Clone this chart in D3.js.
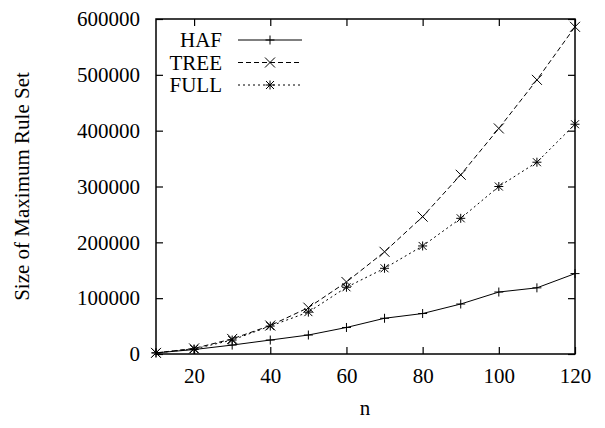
<!DOCTYPE html>
<html>
<head>
<meta charset="utf-8">
<script src="https://cdn.jsdelivr.net/npm/d3@7"></script>
<style>
  body { margin: 0; background: #fff; }
</style>
</head>
<body>
<div id="chart-area"></div>
<script>
// data
var nValues = [10, 20, 30, 40, 50, 60, 70, 80, 90, 100, 110, 120];
var hafValues  = [2000, 8000, 16000, 25000, 34000, 47500, 64000, 72500, 89500, 111000, 118500, 144000];
var treeValues = [2000, 10000, 27000, 51000, 83000, 129000, 183000, 246000, 321000, 404000, 491000, 586000];
var fullValues = [2000, 9000, 25000, 50000, 75000, 119500, 153500, 193500, 243000, 300000, 343500, 411500];
var xTicks = [20, 40, 60, 80, 100, 120];
var yTicks = [0, 100000, 200000, 300000, 400000, 500000, 600000];
var seriesNames = ["HAF", "TREE", "FULL"];

var FONT = "Liberation Serif, Times New Roman, serif";

var margin = { left: 156, right: 30, top: 19, bottom: 74 };
var width = 605 - margin.left - margin.right;
var height = 428 - margin.top - margin.bottom;

var svg = d3.select("#chart-area")
    .append("svg")
    .attr("width", 605)
    .attr("height", 428)
    .attr("font-family", FONT);
var g = svg.append("g")
    .attr("transform", "translate(" + margin.left + "," + margin.top + ")");

var x = d3.scaleLinear().domain([10, 120]).range([0, width]);
var y = d3.scaleLinear().domain([0, 600000]).range([height, 0]);

var series = [
  { name: seriesNames[0], values: hafValues, dash: null, marker: "plus" },
  { name: seriesNames[1], values: treeValues, dash: "5,3", marker: "cross" },
  { name: seriesNames[2], values: fullValues, dash: "2,3", marker: "star" }
];

// gnuplot style ticks: inward, mirrored on top / right
var tickLen = 7;
var fmt = d3.format("d");
var xAxisB = d3.axisBottom(x).tickValues(xTicks).tickSizeInner(-tickLen).tickSizeOuter(0).tickPadding(14).tickFormat(fmt);
var xAxisT = d3.axisTop(x).tickValues(xTicks).tickSizeInner(-tickLen).tickSizeOuter(0).tickFormat("");
var yAxisL = d3.axisLeft(y).tickValues(yTicks).tickSizeInner(-tickLen).tickSizeOuter(0).tickPadding(16).tickFormat(fmt);
var yAxisR = d3.axisRight(y).tickValues(yTicks).tickSizeInner(-tickLen).tickSizeOuter(0).tickFormat("");

function styleAxis(sel) {
  sel.attr("font-family", FONT);
  sel.select(".domain").remove();
  sel.selectAll("line").attr("stroke", "#000").attr("stroke-width", 1.2);
  sel.selectAll("text").attr("font-size", "21px").attr("fill", "#000");
}

g.append("g").attr("transform", "translate(0," + height + ")").call(xAxisB).call(styleAxis);
g.append("g").call(xAxisT).call(styleAxis);
g.append("g").call(yAxisL).call(styleAxis);
g.append("g").attr("transform", "translate(" + width + ",0)").call(yAxisR).call(styleAxis);

// frame
g.append("rect")
    .attr("width", width).attr("height", height)
    .attr("fill", "none").attr("stroke", "#000").attr("stroke-width", 1.5);

// point markers
function drawMarker(sel, type, cx, cy) {
  var p = sel.append("g").attr("transform", "translate(" + cx + "," + cy + ")")
      .attr("stroke", "#000").attr("stroke-width", 1).attr("fill", "none");
  if (type === "plus" || type === "star") {
    var s = 4.5;
    p.append("line").attr("x1", -s).attr("x2", s).attr("y1", 0).attr("y2", 0);
    p.append("line").attr("x1", 0).attr("x2", 0).attr("y1", -s).attr("y2", s);
  }
  if (type === "cross" || type === "star") {
    var c = type === "cross" ? 5 : 4;
    p.append("line").attr("x1", -c).attr("x2", c).attr("y1", -c).attr("y2", c);
    p.append("line").attr("x1", -c).attr("x2", c).attr("y1", c).attr("y2", -c);
  }
}

var line = d3.line()
    .x(function(d) { return x(d.n); })
    .y(function(d) { return y(d.v); });

series.forEach(function(s) {
  var pts = nValues.map(function(n, i) { return { n: n, v: s.values[i] }; });
  g.append("path")
      .datum(pts)
      .attr("d", line)
      .attr("fill", "none")
      .attr("stroke", "#000")
      .attr("stroke-width", 1)
      .attr("stroke-dasharray", s.dash);
  pts.forEach(function(d) { drawMarker(g, s.marker, x(d.n), y(d.v)); });
});

// legend
var legend = svg.append("g");
series.forEach(function(s, i) {
  var ly = 40 + i * 22.5;
  legend.append("text")
      .attr("x", 222).attr("y", ly)
      .attr("dy", "0.35em")
      .attr("text-anchor", "end")
      .attr("font-size", "21px")
      .text(s.name);
  legend.append("line")
      .attr("x1", 238).attr("x2", 302)
      .attr("y1", ly).attr("y2", ly)
      .attr("stroke", "#000").attr("stroke-width", 1)
      .attr("stroke-dasharray", s.dash);
  drawMarker(legend, s.marker, 270, ly);
});

// axis titles
svg.append("text")
    .attr("transform", "translate(22," + (margin.top + height / 2) + ") rotate(-90)")
    .attr("text-anchor", "middle")
    .attr("dy", "0.35em")
    .attr("font-size", "21px")
    .text("Size of Maximum Rule Set");

svg.append("text")
    .attr("x", 365)
    .attr("y", 408)
    .attr("dy", "0.35em")
    .attr("text-anchor", "middle")
    .attr("font-size", "21px")
    .text("n");
</script>
</body>
</html>
